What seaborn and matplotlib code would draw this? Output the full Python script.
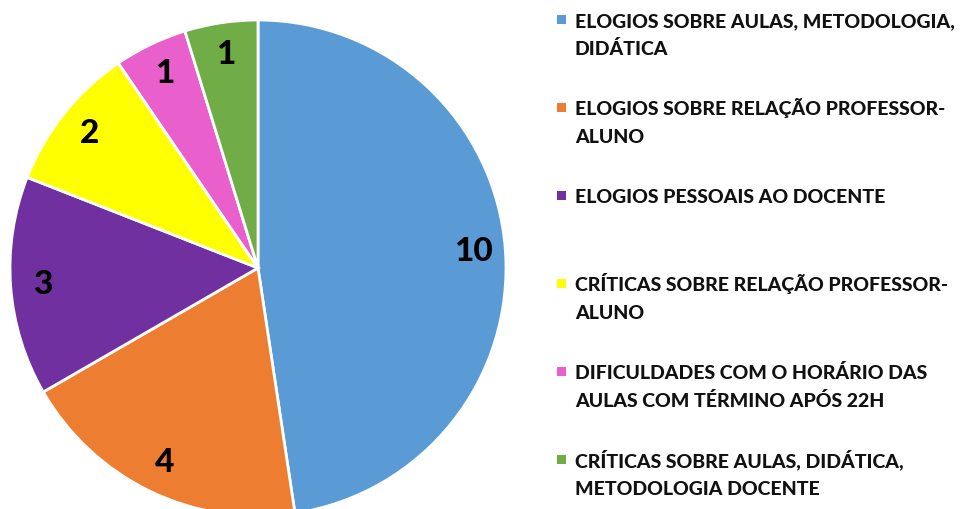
import matplotlib
matplotlib.use("Agg")
import matplotlib.pyplot as plt
import seaborn as sns
from matplotlib.patches import Rectangle

categories = [
    "ELOGIOS SOBRE AULAS, METODOLOGIA,\nDIDÁTICA",
    "ELOGIOS SOBRE RELAÇÃO PROFESSOR-\nALUNO",
    "ELOGIOS PESSOAIS AO DOCENTE",
    "CRÍTICAS SOBRE RELAÇÃO PROFESSOR-\nALUNO",
    "DIFICULDADES COM O HORÁRIO DAS\nAULAS COM TÉRMINO APÓS 22H",
    "CRÍTICAS SOBRE AULAS, DIDÁTICA,\nMETODOLOGIA DOCENTE",
]
counts = [10, 4, 3, 2, 1, 1]
colors = ["#5B9BD5", "#ED7D31", "#7030A0", "#FFFF00", "#E95FCB", "#70AD47"]

sns.set_theme(style="white")
plt.rcParams["font.family"] = ["Lato", "DejaVu Sans"]

W, H = 968, 509
fig = plt.figure(figsize=(W / 100, H / 100), dpi=100)

# pie centre ~(258, 268) px from top, radius ~248 px
cx, cy, r = 258, 268, 248
ax = fig.add_axes([(cx - r) / W, (H - cy - r) / H, 2 * r / W, 2 * r / H])
total = sum(counts)
wedges, _, autotexts = ax.pie(
    counts, colors=colors, startangle=90, counterclock=False,
    autopct=lambda p: f"{round(p * total / 100)}", pctdistance=0.87,
    wedgeprops=dict(edgecolor="white", linewidth=2),
    textprops=dict(fontsize=24, fontweight="black", color="black"),
)
ax.set_xlim(-1, 1)
ax.set_ylim(-1, 1)
ax.axis("off")

# legend drawn by hand so the marker sits on the first line
x_text, x_box = 575, 557
first_base, step, line_gap = 27, 88, 28
for i, (label, col) in enumerate(zip(categories, colors)):
    base = first_base + step * i
    fig.patches.append(Rectangle(((x_box) / W, (H - base + 3) / H), 9 / W, 9 / H,
                                 transform=fig.transFigure, facecolor=col,
                                 edgecolor="none"))
    for j, line in enumerate(label.split("\n")):
        fig.text(x_text / W, (H - base - j * line_gap) / H, line,
                 fontsize=14, fontweight="black", color="#111111",
                 va="baseline", ha="left")

fig.savefig("out.png", dpi=100)
